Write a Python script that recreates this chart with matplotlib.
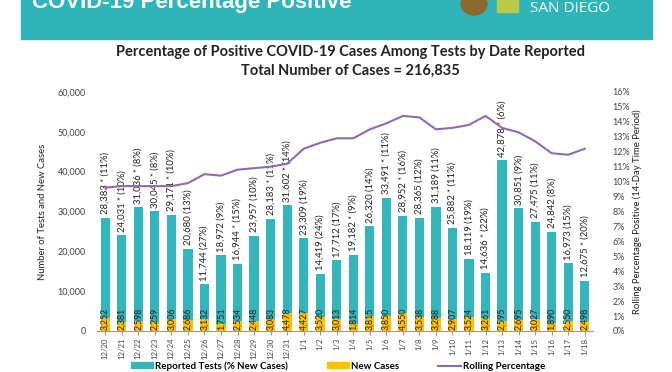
import matplotlib
matplotlib.use("Agg")
import matplotlib.pyplot as plt
from matplotlib.patches import Rectangle, Ellipse
from matplotlib.lines import Line2D
from matplotlib.ticker import FuncFormatter

plt.rcParams["font.family"] = ["Lato", "DejaVu Sans"]

dates = ["12/20", "12/21", "12/22", "12/23", "12/24", "12/25", "12/26", "12/27",
         "12/28", "12/29", "12/30", "12/31", "1/1", "1/2", "1/3", "1/4", "1/5",
         "1/6", "1/7", "1/8", "1/9", "1/10", "1/11", "1/12", "1/13", "1/14",
         "1/15", "1/16", "1/17", "1/18"]
tests = [28383, 24031, 31036, 30045, 29171, 20680, 11744, 18972, 16944, 23957,
         28183, 31602, 23309, 14419, 17712, 19182, 26320, 33491, 28952, 28365,
         31189, 25882, 18119, 14636, 42878, 30851, 27475, 24842, 16973, 12675]
pct_new = [11, 10, 8, 8, 10, 13, 27, 9, 15, 10, 11, 14, 19, 24, 17, 9, 14, 11,
           16, 12, 11, 11, 19, 22, 6, 9, 11, 8, 15, 20]
starred = [1, 1, 1, 1, 1, 0, 0, 0, 1, 0, 1, 1, 0, 0, 0, 1, 0, 1, 1, 0, 0, 1, 0,
           1, 1, 0, 0, 0, 0, 1]
new_cases = [3252, 2381, 2598, 2259, 3006, 2686, 3132, 1751, 2534, 2448, 3083,
             4478, 4427, 3520, 3013, 1814, 3815, 3850, 4550, 3538, 3288, 2907,
             3524, 3261, 2595, 2695, 3027, 1890, 2550, 2498]
rolling = [9.6, 9.7, 9.7, 9.7, 9.7, 9.9, 10.5, 10.4, 10.8, 10.9, 11.0, 11.2,
           12.2, 12.6, 12.9, 12.9, 13.5, 13.9, 14.4, 14.3, 13.5, 13.6, 13.8,
           14.4, 13.6, 13.3, 12.7, 11.9, 11.8, 12.2]

teal = "#33B5BC"
orange = "#FFC000"
purple = "#8A6BB5"
text_col = "#222222"

fig = plt.figure(figsize=(6.72, 3.72), dpi=100)

# header band with title and logos
fig.patches.append(Rectangle((21 / 672, 1 - 39 / 372), 631 / 672, 39 / 372,
                             transform=fig.transFigure, color="#2FB4BA", zorder=0))
fig.text(32 / 672, 1 - 8 / 372, "COVID-19 Percentage Positive", color="white",
         fontsize=16, fontweight="bold", va="baseline", ha="left",
         family=["Liberation Sans", "DejaVu Sans"])
fig.patches.append(Ellipse((474 / 672, 1 - 4 / 372), 26 / 672, 22 / 372,
                           transform=fig.transFigure, color="#8B6A2E", zorder=1))
fig.patches.append(Rectangle((497 / 672, 1 - 12 / 372), 21 / 672, 12 / 372,
                             transform=fig.transFigure, color="#B9CC4A", zorder=1))
fig.text(530 / 672, 1 - 12 / 372, "SAN DIEGO", color="white", fontsize=11,
         va="baseline", ha="left", family=["Open Sans", "DejaVu Sans"])

# chart titles
fig.text(350 / 672, 1 - 52 / 372,
         "Percentage of Positive COVID-19 Cases Among Tests by Date Reported",
         ha="center", va="center", fontsize=10.5, fontweight="bold", color=text_col)
fig.text(350 / 672, 1 - 71 / 372, "Total Number of Cases = 216,835",
         ha="center", va="center", fontsize=10.5, fontweight="bold", color=text_col)

ax = fig.add_axes([97 / 672, 41 / 372, 496 / 672, 239 / 372])
x = list(range(len(dates)))
ax.bar(x, tests, width=0.56, color=teal, zorder=2)
ax.bar(x, new_cases, width=0.56, color=orange, zorder=3)

for i in x:
    star = " * " if starred[i] else " "
    ax.text(i, tests[i] + 900, f"{tests[i]:,}{star}({pct_new[i]}%)", rotation=90,
            ha="center", va="bottom", fontsize=6.8, color=text_col, zorder=5)
    ax.text(i, 150, f"{new_cases[i]:,}", rotation=90, ha="center", va="bottom",
            fontsize=6.3, color=text_col, zorder=5)

ax.set_xlim(-0.5, len(dates) - 0.5)
ax.set_ylim(0, 60000)
ax.set_yticks(range(0, 60001, 10000))
ax.yaxis.set_major_formatter(FuncFormatter(lambda v, p: f"{int(v):,}"))
ax.set_xticks(x)
ax.set_xticklabels(dates, rotation=90, fontsize=5.6, color="#444444")
ax.tick_params(axis="y", length=0, labelsize=6.5, labelcolor="#444444", pad=8)
ax.tick_params(axis="x", length=3, color="#999999", pad=2)
for s in ["top", "right", "left"]:
    ax.spines[s].set_visible(False)
ax.spines["bottom"].set_color("#999999")
ax.set_ylabel("Number of Tests and New Cases", fontsize=6.8, color=text_col, labelpad=8)

ax2 = ax.twinx()
ax2.plot(x, rolling, color=purple, linewidth=1.5, zorder=4)
ax2.set_ylim(0, 16)
ax2.set_yticks(range(0, 17))
ax2.yaxis.set_major_formatter(FuncFormatter(lambda v, p: f"{int(v)}%"))
ax2.tick_params(axis="y", length=0, labelsize=6.5, labelcolor="#444444", pad=14)
for s in ["top", "right", "left", "bottom"]:
    ax2.spines[s].set_visible(False)
ax2.set_ylabel("Rolling Percentage Positive (14-Day Time Period)", fontsize=6.8,
               color=text_col, labelpad=2)

handles = [Rectangle((0, 0), 1, 1, color=teal), Rectangle((0, 0), 1, 1, color=orange),
           Line2D([0], [0], color=purple, linewidth=1.5)]
fig.legend(handles, ["Reported Tests (% New Cases)", "New Cases", "Rolling Percentage"],
           loc="center", bbox_to_anchor=(338 / 672, 1 - 366 / 372), ncol=3,
           frameon=False, prop={"size": 7, "weight": "bold"}, handlelength=2.3,
           handleheight=0.6, columnspacing=4, handletextpad=0.2,
           borderaxespad=0, borderpad=0)

fig.savefig("out.png", dpi=100)
